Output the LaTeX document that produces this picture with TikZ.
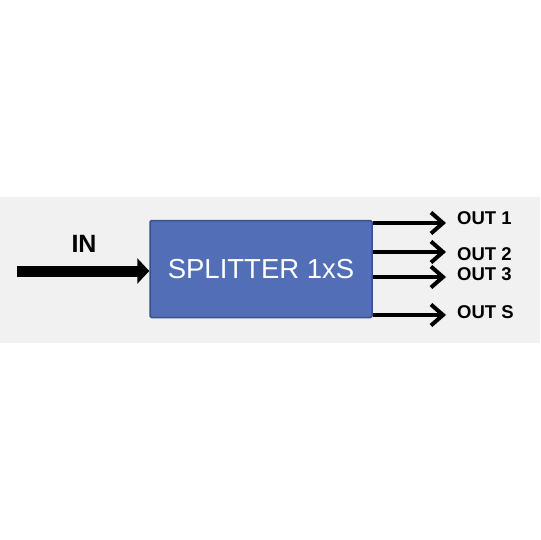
\documentclass[tikz,border=0pt]{standalone}
\usepackage{fontspec}
\setmainfont{Liberation Sans}
\usetikzlibrary{arrows.meta,positioning}
\definecolor{boxblue}{RGB}{82,110,182}
\definecolor{boxedge}{RGB}{58,80,142}
\definecolor{band}{RGB}{241,241,241}
\begin{document}
\begin{tikzpicture}[x=1pt, y=-1pt, line join=round,
	splitbox/.style={draw=boxedge, line width=1.5pt, fill=boxblue, rounded corners=1.5pt, minimum width=222pt, minimum height=97pt, inner sep=0pt, text=white, font=\fontsize{27.5}{27.5}\selectfont},
	outlbl/.style={anchor=west, inner sep=0pt, font=\bfseries\fontsize{18.5}{18.5}\selectfont},
	outarrow/.style={line width=4pt, -{Straight Barb[length=12pt,width=21pt]}}]
	\useasboundingbox (0,0) rectangle (540,540);
	\fill[band] (0,197) rectangle (540,343);
	\node[splitbox] (split) at (261,269) {SPLITTER 1xS};
	\coordinate (in) at (17,271);
	\draw[line width=11pt, -{Triangle[length=12pt,width=25pt]}] (in) -- (split.west |- in);
	\node[inner sep=0pt, font=\bfseries\fontsize{25}{25}\selectfont] (inlbl) at (84,244) {IN};
	\foreach \n/\y/\t/\ty in {1/223/OUT 1/218, 2/252/OUT 2/254, 3/277/OUT 3/274, s/315/OUT S/312}{
		\coordinate (o\n) at (446,\y);
		\draw[outarrow] (split.east |- o\n) -- (o\n);
		\node[outlbl] (l\n) at (457,\ty) {\t};
	}
\end{tikzpicture}
\end{document}
